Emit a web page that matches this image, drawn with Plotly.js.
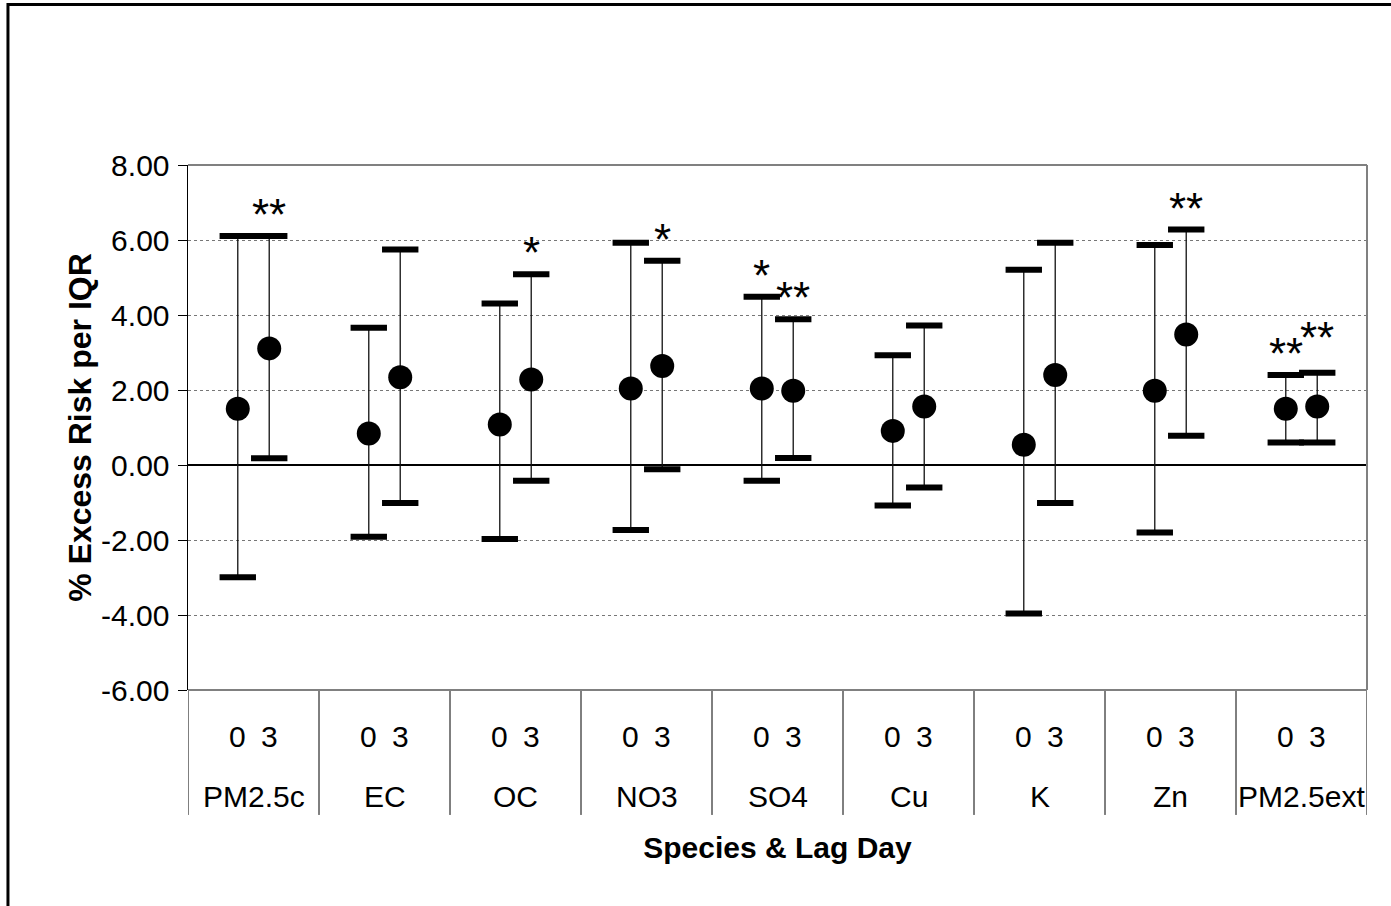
<!DOCTYPE html>
<html>
<head>
<meta charset="utf-8">
<script src="https://cdn.plot.ly/plotly-3.0.1.min.js"></script>
<style>html,body{margin:0;padding:0;background:#fff;}#chart{width:1391px;height:906px;}</style>
</head>
<body>
<div id="chart"></div>
<script>
// ---- data ----
const species = ['PM2.5c', 'EC', 'OC', 'NO3', 'SO4', 'Cu', 'K', 'Zn', 'PM2.5ext'];
const lagLabels = ['0', '3'];

const lag0Est   = [1.50, 0.84, 1.08, 2.04, 2.04, 0.91, 0.54, 1.98, 1.50];
const lag0Upper = [6.11, 3.66, 4.31, 5.93, 4.49, 2.93, 5.21, 5.87, 2.40];
const lag0Lower = [-2.99, -1.91, -1.97, -1.73, -0.42, -1.08, -3.96, -1.80, 0.60];

const lag3Est   = [3.11, 2.34, 2.28, 2.64, 1.98, 1.56, 2.40, 3.48, 1.56];
const lag3Upper = [6.11, 5.75, 5.09, 5.45, 3.89, 3.72, 5.93, 6.28, 2.46];
const lag3Lower = [0.18, -1.01, -0.42, -0.11, 0.19, -0.60, -1.01, 0.78, 0.60];

const lag0Stars = ['', '', '', '', '*', '', '', '', '**'];
const lag3Stars = ['**', '', '*', '*', '**', '', '', '**', '**'];

const yTicks = [-6, -4, -2, 0, 2, 4, 6, 8];

// ---- layout helpers ----
const FONT = 'Arial, "Liberation Sans", sans-serif';
const off = 0.12;
const xs0 = species.map((s, i) => i + 0.5 - off);
const xs3 = species.map((s, i) => i + 0.5 + off);

const allX = xs0.concat(xs3);
const allEst = lag0Est.concat(lag3Est);
const allUp = lag0Upper.concat(lag3Upper);
const allLo = lag0Lower.concat(lag3Lower);

const traces = [
  {
    type: 'scatter', mode: 'markers', x: allX, y: allEst,
    marker: {color: 'rgba(0,0,0,0)', size: 1},
    error_y: {
      type: 'data', symmetric: false,
      array: allEst.map((v, i) => allUp[i] - v),
      arrayminus: allEst.map((v, i) => v - allLo[i]),
      color: '#111', thickness: 1.3, width: 0
    },
    showlegend: false, hoverinfo: 'skip'
  },
  {
    type: 'scatter', mode: 'markers', x: allX.concat(allX), y: allUp.concat(allLo),
    marker: {symbol: 'line-ew', size: 26, line: {color: '#000', width: 6}},
    showlegend: false, hoverinfo: 'skip'
  },
  {
    type: 'scatter', mode: 'markers', x: allX, y: allEst,
    marker: {symbol: 'circle', size: 24, color: '#000'},
    showlegend: false
  }
];

const annotations = [];
function starAnn(x, y, s, lift) {
  annotations.push({
    x: x, y: y, xref: 'x', yref: 'y', text: s, showarrow: false,
    xanchor: 'center', yanchor: 'bottom', yshift: -5 + lift,
    font: {family: FONT, size: 44, color: '#000'}
  });
}
species.forEach((sp, i) => {
  if (lag0Stars[i]) starAnn(xs0[i], lag0Upper[i], lag0Stars[i], 0);
  if (lag3Stars[i]) {
    // raise the lag-3 marker when it would collide with a lag-0 marker at a similar height
    const clash = lag0Stars[i] && Math.abs(lag0Upper[i] - lag3Upper[i]) < 0.3;
    starAnn(xs3[i], lag3Upper[i], lag3Stars[i], clash ? 14 : 0);
  }
});
allX.forEach((x, i) => {
  annotations.push({
    x: x, y: -0.0895, xref: 'x', yref: 'paper', text: i < species.length ? lagLabels[0] : lagLabels[1],
    showarrow: false, xanchor: 'center', yanchor: 'middle',
    font: {family: FONT, size: 30, color: '#000'}
  });
});
species.forEach((s, i) => {
  annotations.push({
    x: i + 0.5, y: -0.2038, xref: 'x', yref: 'paper', text: s,
    showarrow: false, xanchor: 'center', yanchor: 'middle',
    font: {family: FONT, size: 30, color: '#000'}
  });
});

const shapes = [];
for (let i = 0; i <= species.length; i++) {
  shapes.push({type: 'line', xref: 'x', yref: 'paper', x0: i, x1: i, y0: 0, y1: -0.238,
    line: {color: '#000', width: 1}});
}
// outer frame
shapes.push({type: 'rect', xref: 'paper', yref: 'paper', x0: -0.1527, x1: 1.2, y0: -0.6, y1: 1.3057,
  line: {color: '#000', width: 3}, fillcolor: 'rgba(0,0,0,0)', layer: 'above'});
// plot border top/right/bottom
shapes.push({type: 'line', xref: 'paper', yref: 'paper', x0: 0, x1: 1, y0: 1, y1: 1, line: {color: '#808080', width: 2}});
shapes.push({type: 'line', xref: 'paper', yref: 'paper', x0: 1, x1: 1, y0: 0, y1: 1, line: {color: '#808080', width: 2}});
shapes.push({type: 'line', xref: 'paper', yref: 'paper', x0: 0, x1: 1, y0: 0, y1: 0, line: {color: '#808080', width: 2}});

const layout = {
  width: 1391, height: 906,
  margin: {l: 188, r: 24, t: 165, b: 216},
  paper_bgcolor: '#fff', plot_bgcolor: '#fff',
  font: {family: FONT, color: '#000'},
  showlegend: false,
  xaxis: {
    range: [0, species.length], showgrid: false, zeroline: false,
    showticklabels: false, ticks: '', showline: false,
    title: {text: '<b>Species & Lag Day</b>', font: {family: FONT, size: 30, color: '#000'}, standoff: 146},
    automargin: false, fixedrange: true
  },
  yaxis: {
    range: [-6, 8], tickvals: yTicks, ticktext: yTicks.map(v => v.toFixed(2)),
    ticks: 'outside', ticklen: 9, tickcolor: '#000', tickwidth: 1,
    ticklabelstandoff: 2,
    tickfont: {family: FONT, size: 30, color: '#000'},
    showline: true, linecolor: '#000', linewidth: 1.5,
    showgrid: true, gridcolor: '#777', griddash: 'dot', gridwidth: 1,
    zeroline: true, zerolinecolor: '#000', zerolinewidth: 1.3,
    title: {text: '<b>% Excess Risk per IQR</b>', font: {family: FONT, size: 32, color: '#000'}, standoff: 0},
    automargin: false, fixedrange: true
  },
  annotations: annotations,
  shapes: shapes
};

Plotly.newPlot('chart', traces, layout, {displayModeBar: false, staticPlot: true});
</script>
</body>
</html>
